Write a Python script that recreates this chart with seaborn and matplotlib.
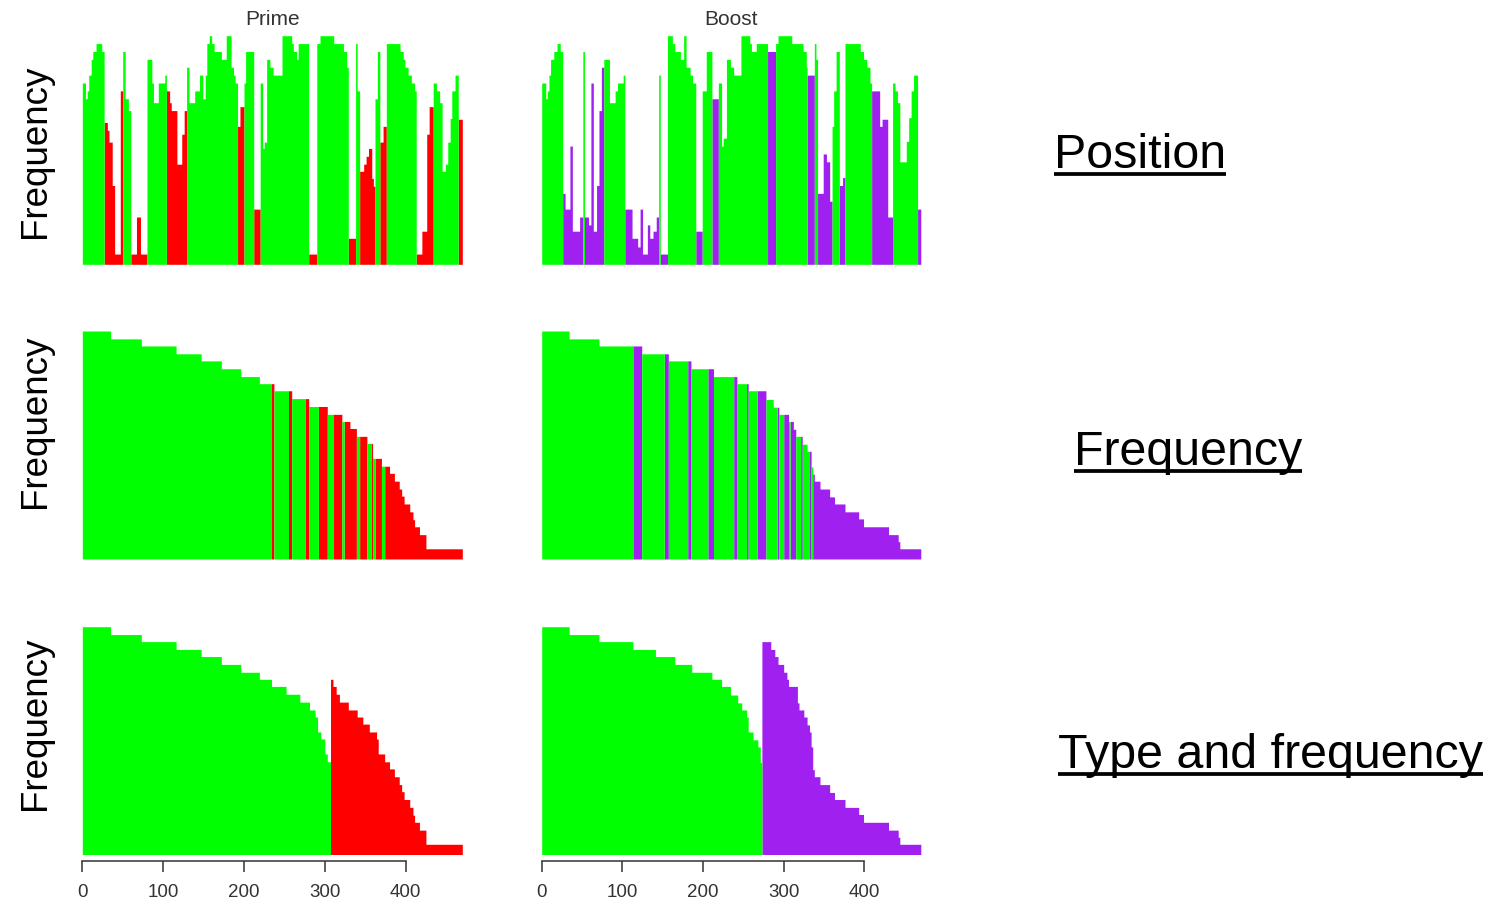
import numpy as np
import pandas as pd
import matplotlib
matplotlib.use("Agg")
import matplotlib.pyplot as plt
import seaborn as sns
from matplotlib.lines import Line2D

# ---------------- data ----------------
# Row 1 (by position): run ends (position), frequency level, type code
prime_pos_end = [4, 6, 8, 11, 13, 17, 21, 24, 27,
                 31, 33, 37, 40, 47, 50,
                 53, 57, 60,
                 67, 72, 80,
                 86, 88, 94, 102, 104,
                 108, 110, 117, 123, 126, 129,
                 132, 139, 145, 149, 152, 154, 157, 160, 163, 172, 178, 184, 187, 189, 192,
                 195, 200,
                 202, 212,
                 220,
                 223, 225, 228, 232, 236, 247, 259, 261, 265, 267, 280,
                 290,
                 294, 311, 323, 327, 329,
                 338,
                 340, 343,
                 348, 351, 354, 358, 360, 362,
                 365, 368,
                 372, 376,
                 393, 397, 399, 403, 407, 411, 413,
                 420, 426, 429, 434,
                 438, 442, 445, 449, 452, 455, 457, 461, 465,
                 470]
prime_pos_freq = [23, 21, 22, 24, 26, 27, 28, 28, 27,
                  18, 17, 15.5, 10, 1.3, 22,
                  27, 21, 19.5,
                  1.3, 6, 1.3,
                  26, 23, 20.5, 23, 24,
                  22, 20.5, 19.5, 12.7, 16.5, 19.5,
                  25, 20.5, 22, 24, 21, 24, 28, 29, 28, 27, 26, 29, 25, 24, 23,
                  17.5, 20,
                  23, 27,
                  7,
                  23, 14.7, 15.5, 26, 25, 24, 29, 28, 27, 26, 28,
                  1.3,
                  28, 29, 28, 27, 25,
                  3.3,
                  28, 22,
                  11.8, 12.7, 13.7, 14.7, 10.9, 9.9,
                  21, 27,
                  15.5, 17.5,
                  28, 27, 26, 25, 24, 23, 22,
                  1.3, 4.2, 16.5, 20,
                  23, 22, 20.5, 11.8, 12.7, 15.5, 18.5, 22, 24,
                  18.4]
prime_pos_type = ("ggggggggg" + "rrrrrr" + "ggg" + "rrr" + "ggggg" + "rrrrrr"
                  + "ggggggggggggggg" + "rr" + "gg" + "r" + "ggggggggggg" + "r"
                  + "ggggg" + "r" + "gg" + "rrrrrr" + "gg" + "rr" + "ggggggg"
                  + "rrrr" + "ggggggggg" + "r")

boost_pos_end = [5, 7, 9, 11, 15, 19, 23, 26,
                 29, 35, 38, 47, 51,
                 53,
                 58, 61, 64, 68, 71, 74, 77,
                 84, 91, 94, 101, 103,
                 112, 119, 122, 125, 131, 134, 138, 142, 145,
                 147,
                 156,
                 162, 165, 172, 176, 179, 184, 187, 191,
                 199,
                 204, 211,
                 219,
                 223, 225, 229, 234, 238, 247, 258, 260, 266, 280,
                 290,
                 293, 310, 324, 328, 329,
                 338,
                 340, 342,
                 349, 353, 357, 360,
                 362, 365, 369,
                 373, 376,
                 395, 399, 403, 407, 409,
                 419, 422, 429, 435,
                 438, 441, 444, 452, 455, 458, 461, 466,
                 470]
boost_pos_freq = [23, 21, 22, 24, 26, 27, 28, 27,
                  9, 7, 15, 4.2, 6,
                  27,
                  6, 5, 23, 4.2, 10, 19.5, 25,
                  26, 20.5, 22, 23, 24,
                  7, 3.3, 2.2, 7, 1.3, 5, 3.3, 4.2, 6,
                  24,
                  1.3,
                  29, 28, 27, 26, 29, 25, 24, 23,
                  4.2,
                  22, 27,
                  21,
                  23, 15, 16, 26, 25, 24, 29, 28, 27, 28,
                  27,
                  28, 29, 28, 27, 25,
                  24,
                  28, 26,
                  9, 14, 13, 8,
                  17.5, 22, 27,
                  10, 11,
                  28, 27, 26, 25, 23,
                  22, 17.5, 18.4, 6,
                  23, 22, 20.5, 13, 15.6, 18.6, 22, 24,
                  7]
boost_pos_type = ("gggggggg" + "ppppp" + "g" + "ppppppp" + "ggggg" + "ppppppppp"
                  + "g" + "p" + "gggggggg" + "p" + "gg" + "p" + "gggggggggg" + "p"
                  + "ggggg" + "p" + "gg" + "pppp" + "ggg" + "pp" + "ggggg" + "pppp"
                  + "gggggggg" + "p")

# Rows 2-3: frequency table (level, number of positions per type)
prime_levels = [29.0, 28.0, 27.1, 26.1, 25.2, 24.2, 23.2, 22.3, 21.4, 20.4,
                19.4, 18.4, 17.5, 16.6, 15.6, 14.7, 12.8, 11.8, 10.9, 9.9,
                8.9, 8.0, 7.0, 6.0, 5.0, 4.1, 3.1, 1.3]
prime_green_n = [35, 38, 43, 31, 25, 24, 23, 15, 18, 17,
                 12, 7, 3, 0, 4, 5, 3, 4, 0, 0,
                 0, 0, 0, 0, 0, 0, 0, 0]
prime_red_n = [0, 0, 0, 0, 0, 0, 0, 3, 4, 4,
               11, 11, 7, 8, 9, 2, 8, 6, 6, 6,
               3, 3, 7, 4, 2, 6, 8, 45]

boost_levels = [29.0, 28.0, 27.1, 26.1, 25.2, 24.2, 23.2, 22.3, 21.4, 20.3,
                19.3, 18.4, 17.5, 16.5, 15.6, 14.6, 13.7, 11.7, 10.8, 9.9,
                8.9, 7.9, 7.0, 6.0, 5.1, 4.1, 3.1, 2.2, 1.3]
boost_green_n = [34, 37, 42, 28, 24, 21, 25, 12, 11, 9,
                 5, 6, 2, 0, 6, 6, 3, 2, 0, 0,
                 0, 0, 0, 0, 0, 0, 0, 0, 0]
boost_purple_n = [0, 0, 11, 5, 4, 7, 4, 2, 11, 0,
                  2, 6, 4, 3, 2, 0, 2, 0, 2, 7,
                  12, 6, 13, 17, 6, 31, 12, 2, 26]

column_titles = ["Prime", "Boost"]
row_titles = ["Position", "Frequency", "Type and frequency"]
x_ticks = [0, 100, 200, 300, 400]

GREEN = "#00FF00"
RED = "#FF0000"
PURPLE = "#A020F0"

# ---------------- helpers ----------------
def expand_runs(ends, freqs, types):
    assert len(ends) == len(freqs) == len(types)
    lengths = np.diff(np.concatenate([[0], ends]))
    val = np.repeat(freqs, lengths)
    typ = np.repeat(list(types), lengths)
    return pd.DataFrame({"pos": np.arange(len(val)), "value": val, "type": typ})


def expand_by_frequency(levels, n_green, n_spec, code):
    vals, typs = [], []
    for lv, ng, ns in zip(levels, n_green, n_spec):
        vals += [lv] * ng + [lv] * ns
        typs += ["g"] * ng + [code] * ns
    return pd.DataFrame({"pos": np.arange(len(vals)), "value": vals, "type": typs})


def expand_by_type(levels, n_green, n_spec, code):
    vals, typs = [], []
    for lv, ng in zip(levels, n_green):
        vals += [lv] * ng
        typs += ["g"] * ng
    for lv, ns in zip(levels, n_spec):
        vals += [lv] * ns
        typs += [code] * ns
    return pd.DataFrame({"pos": np.arange(len(vals)), "value": vals, "type": typs})


panels = [
    [expand_runs(prime_pos_end, prime_pos_freq, prime_pos_type),
     expand_runs(boost_pos_end, boost_pos_freq, boost_pos_type)],
    [expand_by_frequency(prime_levels, prime_green_n, prime_red_n, "r"),
     expand_by_frequency(boost_levels, boost_green_n, boost_purple_n, "p")],
    [expand_by_type(prime_levels, prime_green_n, prime_red_n, "r"),
     expand_by_type(boost_levels, boost_green_n, boost_purple_n, "p")],
]
palettes = [{"g": GREEN, "r": RED}, {"g": GREEN, "p": PURPLE}]
codes = ["r", "p"]

# ---------------- figure ----------------
sns.set_theme(style="white")
plt.rcParams["font.family"] = ["Liberation Sans", "DejaVu Sans"]

W, H = 1506, 902
fig = plt.figure(figsize=(W / 100, H / 100), dpi=100)

col_left = [82.3, 541.7]
col_width = [380.0, 379.1]
row_top = [35.7, 331.0, 626.7]
row_height = [228.6, 228.0, 227.8]
N = 470
YMAX = 29.0

for r in range(3):
    for c in range(2):
        ax = fig.add_axes([col_left[c] / W, 1 - (row_top[r] + row_height[r]) / H,
                           col_width[c] / W, row_height[r] / H])
        df = panels[r][c]
        sns.histplot(data=df, x="pos", weights="value", hue="type",
                     hue_order=["g", codes[c]], palette=palettes[c],
                     binwidth=1, binrange=(0, N), element="step", fill=True,
                     alpha=1, linewidth=0, multiple="layer", legend=False, ax=ax)
        for coll in ax.collections:
            coll.set_antialiased(False)
        ax.set_xlim(0, N)
        ax.set_ylim(0, YMAX)
        ax.set_xlabel("")
        ax.set_ylabel("")
        ax.set_yticks([])
        for s in ["top", "right", "left"]:
            ax.spines[s].set_visible(False)
        ax.grid(False)
        if r == 2:
            ax.spines["bottom"].set_visible(True)
            ax.spines["bottom"].set_position(("outward", 5))
            ax.spines["bottom"].set_bounds(0, 400)
            ax.spines["bottom"].set_color("#333333")
            ax.spines["bottom"].set_linewidth(1.1)
            ax.set_xticks(x_ticks)
            ax.set_xticklabels([str(t) for t in x_ticks])
            ax.tick_params(axis="x", bottom=True, direction="out", length=8,
                           width=1.1, color="#333333", labelsize=13.5,
                           labelcolor="#333333", pad=8)
        else:
            ax.spines["bottom"].set_visible(False)
            ax.set_xticks([])
        if r == 0:
            ax.set_title(column_titles[c], fontsize=15, pad=7.7, color="#333333")

# y labels
for yc in [151, 421, 723]:
    fig.text(45 / W, 1 - yc / H, "Frequency", rotation=90, rotation_mode="anchor",
             ha="center", va="baseline", fontsize=26.5, color="black")

# right-side underlined labels
label_pos = [(1054, 168), (1074, 465), (1058, 768)]
texts = []
for (lx, by), txt in zip(label_pos, row_titles):
    t = fig.text(lx / W, 1 - by / H, txt, ha="left", va="baseline",
                 fontsize=34.8, color="black")
    texts.append((t, by))

fig.canvas.draw()
renderer = fig.canvas.get_renderer()
for t, by in texts:
    bb = t.get_window_extent(renderer)
    uy = 1 - (by + 6) / H
    fig.add_artist(Line2D([bb.x0 / W, bb.x1 / W], [uy, uy],
                          transform=fig.transFigure, color="black",
                          linewidth=2.7, solid_capstyle="butt"))

fig.savefig("out.png", dpi=100)
